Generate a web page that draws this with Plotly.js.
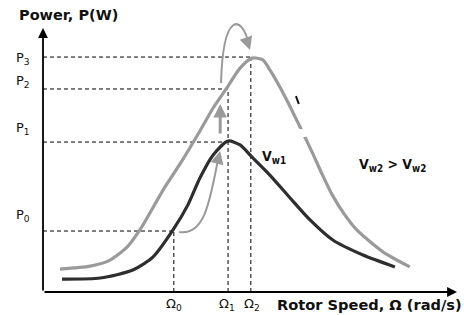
<!DOCTYPE html>
<html>
<head>
<meta charset="utf-8">
<script src="https://cdn.plot.ly/plotly-3.0.1.min.js"></script>
<style>html,body{margin:0;padding:0;background:#fff;}#chart{width:469px;height:315px;}</style>
</head>
<body>
<div id="chart"></div>
<script>
// Curve at lower wind speed v_w1 (dark)
var omegaW1 = [0.46, 1.38, 2.17, 2.66, 3.14, 3.50, 3.79, 4.11, 4.47, 4.76, 5.05, 5.48, 5.97, 6.45, 7.00, 7.73, 8.50];
var powerW1 = [0.49, 0.53, 0.83, 1.33, 2.35, 3.30, 4.32, 5.19, 5.72, 5.57, 5.11, 4.43, 3.56, 2.73, 1.97, 1.40, 0.95];
// Curve at higher wind speed v_w2 (light)
var omegaW2 = [0.41, 1.14, 1.62, 2.03, 2.34, 2.90, 3.31, 3.79, 4.11, 4.44, 4.76, 5.05, 5.31, 5.48, 5.85, 6.21, 6.50, 6.74, 7.00, 7.29, 7.58, 8.21, 8.86];
var powerW2 = [0.87, 0.98, 1.21, 1.70, 2.35, 3.86, 4.85, 6.10, 6.97, 7.73, 8.48, 8.86, 8.79, 8.41, 7.39, 6.25, 5.30, 4.47, 3.64, 2.92, 2.35, 1.52, 0.95];
// Operating levels
var pLabels = ['P<sub>0</sub>', 'P<sub>1</sub>', 'P<sub>2</sub>', 'P<sub>3</sub>'];
var pLevels = [2.31, 5.68, 7.69, 8.90];
var pEnds = [3.16, 4.47, 4.47, 5.02];       // where each horizontal guide stops
var omegaLabels = ['Ω<sub>0</sub>', 'Ω<sub>1</sub>', 'Ω<sub>2</sub>'];
var omegaLevels = [3.16, 4.47, 5.02];
var omegaTops = [2.31, 7.69, 8.90];        // where each vertical guide stops
var pLabelPaperY = [0.268, 0.568, 0.735, 0.812];
var omegaLabelPaperX = [0.311, 0.437, 0.496];

var XMAX = 421 / 41.4, YMAX = 287 / 26.4;
var FONT = 'DejaVu Sans Condensed, DejaVu Sans, sans-serif';
var FONTW = 'DejaVu Sans, sans-serif';
var GRAY = '#9a9a9a', DARK = '#2e2e2e';

var traces = [
  {x: omegaW2, y: powerW2, mode: 'lines', line: {color: GRAY, width: 3.2, shape: 'spline', smoothing: 0.7}, hoverinfo: 'skip'},
  {x: omegaW1, y: powerW1, mode: 'lines', line: {color: DARK, width: 3.2, shape: 'spline', smoothing: 0.7}, hoverinfo: 'skip'}
];

var shapes = [];
var dash = {color: '#000', width: 1, dash: '4px,3px'};
for (var i = 0; i < pLevels.length; i++) {
  shapes.push({type: 'line', xref: 'x', yref: 'y', x0: 0, x1: pEnds[i], y0: pLevels[i], y1: pLevels[i], line: dash, layer: 'below'});
}
for (var j = 0; j < omegaLevels.length; j++) {
  shapes.push({type: 'line', xref: 'x', yref: 'y', x0: omegaLevels[j], x1: omegaLevels[j], y0: 0, y1: omegaTops[j], line: dash, layer: 'below'});
}
// small break in the light curve and stray glyph stroke
shapes.push({type: 'rect', xref: 'x', yref: 'y', x0: 6.17, x1: 6.36, y0: 5.87, y1: 6.17, fillcolor: '#fff', line: {width: 0}, layer: 'above'});
shapes.push({type: 'line', xref: 'x', yref: 'y', x0: 6.11, x1: 6.18, y0: 7.42, y1: 7.12, line: {color: '#111', width: 2}});
// curved transition arrows (bodies)
shapes.push({type: 'path', xref: 'x', yref: 'y', path: 'M 3.29 2.27 C 3.91 2.12, 4.03 3.48, 4.22 4.95', line: {color: GRAY, width: 2}});
shapes.push({type: 'path', xref: 'x', yref: 'y', path: 'M 4.30 7.92 C 4.35 10.68, 4.81 10.49, 4.97 9.40', line: {color: GRAY, width: 2}});

var ann = [];
// axes with arrowheads
ann.push({x: 0, y: 10.0, ax: 0, ay: 0, xref: 'x', yref: 'y', axref: 'x', ayref: 'y', showarrow: true, arrowhead: 2, arrowsize: 1.1, arrowwidth: 1.8, arrowcolor: '#000', text: ''});
ann.push({x: 10.0, y: 0, ax: 0, ay: 0, xref: 'x', yref: 'y', axref: 'x', ayref: 'y', showarrow: true, arrowhead: 2, arrowsize: 1.1, arrowwidth: 1.8, arrowcolor: '#000', text: ''});
// gray arrows
ann.push({x: 4.28, y: 7.12, ax: 4.28, ay: 5.95, xref: 'x', yref: 'y', axref: 'x', ayref: 'y', showarrow: true, arrowhead: 2, arrowsize: 0.9, arrowwidth: 3, arrowcolor: GRAY, text: ''});
ann.push({x: 4.28, y: 5.34, ax: 4.21, ay: 4.90, xref: 'x', yref: 'y', axref: 'x', ayref: 'y', showarrow: true, arrowhead: 2, arrowsize: 1.3, arrowwidth: 2, arrowcolor: GRAY, text: ''});
ann.push({x: 5.00, y: 9.17, ax: 4.93, ay: 9.50, xref: 'x', yref: 'y', axref: 'x', ayref: 'y', showarrow: true, arrowhead: 2, arrowsize: 1.3, arrowwidth: 2, arrowcolor: GRAY, text: ''});
// labels (paper coordinates so they can sit outside the plotting range)
for (var k = 0; k < pLabels.length; k++) {
  ann.push({x: -0.047, y: pLabelPaperY[k], xref: 'paper', yref: 'paper', xanchor: 'center', yanchor: 'middle', text: pLabels[k], showarrow: false, font: {family: FONTW, size: 13, color: '#111'}});
}
for (var m = 0; m < omegaLabels.length; m++) {
  ann.push({x: omegaLabelPaperX[m], y: -0.045, xref: 'paper', yref: 'paper', xanchor: 'center', yanchor: 'middle', text: omegaLabels[m], showarrow: false, font: {family: FONTW, size: 13, color: '#111'}});
}
ann.push({x: -0.062, y: 0.965, xref: 'paper', yref: 'paper', xanchor: 'left', yanchor: 'middle', text: '<b>Power, P(W)</b>', showarrow: false, font: {family: FONTW, size: 14.5, color: '#111'}});
ann.push({x: 0.551, y: -0.045, xref: 'paper', yref: 'paper', xanchor: 'left', yanchor: 'middle', text: '<b>Rotor Speed, Ω (rad/s)</b>', showarrow: false, font: {family: FONTW, size: 14.6, color: '#111'}});
ann.push({x: 5.58, y: 5.11, xref: 'x', yref: 'y', xanchor: 'center', yanchor: 'middle', text: '<b>V<sub>w1</sub></b>', showarrow: false, font: {family: FONT, size: 14, color: '#111'}});
ann.push({x: 8.45, y: 4.81, xref: 'x', yref: 'y', xanchor: 'center', yanchor: 'middle', text: '<b>V<sub>w2</sub> > V<sub>w2</sub></b>', showarrow: false, font: {family: FONT, size: 14, color: '#111'}});

var layout = {
  width: 469, height: 315,
  margin: {l: 43, r: 5, t: 5, b: 23},
  paper_bgcolor: '#fff', plot_bgcolor: '#fff',
  showlegend: false,
  xaxis: {range: [0, XMAX], visible: false, showgrid: false, zeroline: false, fixedrange: true},
  yaxis: {range: [0, YMAX], visible: false, showgrid: false, zeroline: false, fixedrange: true},
  shapes: shapes,
  annotations: ann
};
Plotly.newPlot('chart', traces, layout, {displayModeBar: false, staticPlot: true});
</script>
</body>
</html>
